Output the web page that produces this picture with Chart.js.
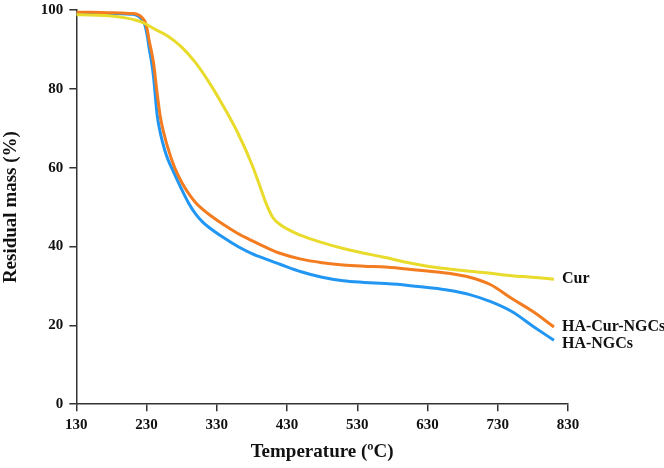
<!DOCTYPE html>
<html>
<head>
<meta charset="utf-8">
<script src="https://cdn.jsdelivr.net/npm/chart.js@4/dist/chart.umd.min.js"></script>
<style>
  html, body { margin: 0; padding: 0; background: #fff; overflow: hidden; }
  #wrap { width: 664px; height: 473px; margin-top: -5px; }
</style>
</head>
<body>
<div id="wrap"><canvas id="myChart"></canvas></div>
<script>
// Temperatures (ºC) for the two nanogel curves
const tempsNGC = [130, 150, 180, 200, 210, 215, 220, 225, 228, 231, 234, 237, 240, 245, 250, 255, 260, 270, 280, 290, 300, 310, 320, 340, 360, 380, 400, 420, 450, 480, 510, 540, 570, 600, 630, 660, 690, 720, 750, 780, 810];
const massHANGCs = [99.2, 99.2, 99.1, 99.0, 98.9, 98.7, 98.2, 97.2, 96.0, 93.5, 90.0, 87.0, 83.0, 73.5, 68.5, 65.0, 62.3, 58.3, 54.5, 51.0, 48.2, 46.2, 44.7, 42.2, 40.0, 38.2, 36.8, 35.5, 33.6, 32.2, 31.3, 30.9, 30.6, 30.2, 29.6, 28.9, 27.8, 26.0, 23.5, 19.8, 16.2];
const massHACurNGCs = [99.4, 99.4, 99.3, 99.2, 99.1, 99.0, 98.6, 97.8, 97.0, 95.0, 92.0, 89.5, 86.5, 79.0, 72.5, 68.5, 65.2, 60.0, 56.3, 53.4, 51.1, 49.4, 48.0, 45.5, 43.3, 41.5, 39.8, 38.3, 36.8, 35.9, 35.3, 35.0, 34.8, 34.3, 33.8, 33.2, 32.2, 30.3, 26.8, 23.5, 19.6];

// Temperatures and residual mass for free curcumin
const tempsCur = [130, 150, 180, 200, 215, 225, 240, 260, 280, 300, 320, 340, 360, 380, 390, 400, 410, 420, 450, 480, 510, 540, 570, 600, 630, 660, 690, 720, 750, 780, 810];
const massCur = [98.8, 98.7, 98.5, 98.0, 97.4, 96.8, 95.3, 93.4, 90.6, 86.6, 81.4, 75.4, 68.8, 60.8, 56.0, 51.0, 47.3, 45.6, 42.8, 41.0, 39.5, 38.3, 37.2, 36.0, 35.0, 34.3, 33.7, 33.2, 32.6, 32.2, 31.7];

const xTicks = [130, 230, 330, 430, 530, 630, 730, 830];
const yTicks = [0, 20, 40, 60, 80, 100];

function pairs(xs, ys) {
    return xs.map((x, i) => ({ x: x, y: ys[i] }));
}

const axisColor = '#333';
const serif = '"Liberation Serif", "Times New Roman", serif';

// Writes each series name next to the end of its curve
const endLabels = {
    id: 'endLabels',
    afterDatasetsDraw(chart) {
        const ctx = chart.ctx;
        ctx.save();
        ctx.font = 'bold 16px ' + serif;
        ctx.fillStyle = '#111';
        ctx.textBaseline = 'middle';
        chart.data.datasets.forEach((ds, i) => {
            const pts = chart.getDatasetMeta(i).data;
            const last = pts[pts.length - 1];
            ctx.fillText(ds.label, last.x + 8, last.y + (ds.labelShift || 0));
        });
        ctx.restore();
    }
};

new Chart(document.getElementById('myChart'), {
    type: 'line',
    data: {
        datasets: [{
            label: 'Cur',
            data: pairs(tempsCur, massCur),
            borderColor: '#E8DB2C',
            labelShift: 0
        }, {
            label: 'HA-Cur-NGCs',
            data: pairs(tempsNGC, massHACurNGCs),
            borderColor: '#F47C20',
            labelShift: 0
        }, {
            label: 'HA-NGCs',
            data: pairs(tempsNGC, massHANGCs),
            borderColor: '#2196F3',
            labelShift: 4
        }]
    },
    options: {
        responsive: true,
        maintainAspectRatio: false,
        animation: false,
        datasets: {
            line: {
                borderWidth: 3,
                pointRadius: 0,
                fill: false,
                cubicInterpolationMode: 'monotone'
            }
        },
        layout: { padding: { left: 0, right: 96, top: 0, bottom: 5 } },
        scales: {
            x: {
                type: 'linear',
                min: 130,
                max: 830,
                afterBuildTicks(axis) { axis.ticks = xTicks.map(v => ({ value: v })); },
                grid: { drawOnChartArea: false, color: axisColor, tickLength: 7, lineWidth: 1.5 },
                border: { color: axisColor, width: 1.5 },
                ticks: { color: '#111', padding: 5, font: { family: serif, size: 15, weight: 'bold' } },
                title: {
                    display: true,
                    text: 'Temperature (ºC)',
                    color: '#111',
                    padding: { top: 1, bottom: 0 },
                    font: { family: serif, size: 19, weight: 'bold' }
                }
            },
            y: {
                min: 0,
                max: 100,
                afterBuildTicks(axis) { axis.ticks = yTicks.map(v => ({ value: v })); },
                grid: { drawOnChartArea: false, color: axisColor, tickLength: 7, lineWidth: 1.5 },
                border: { color: axisColor, width: 1.5 },
                ticks: { color: '#111', padding: 6, font: { family: serif, size: 15, weight: 'bold' } },
                title: {
                    display: true,
                    text: 'Residual mass (%)',
                    color: '#111',
                    padding: { top: 0, bottom: 12 },
                    font: { family: serif, size: 19, weight: 'bold' }
                }
            }
        },
        plugins: {
            legend: { display: false },
            tooltip: { enabled: false }
        }
    },
    plugins: [endLabels]
});
</script>
</body>
</html>
